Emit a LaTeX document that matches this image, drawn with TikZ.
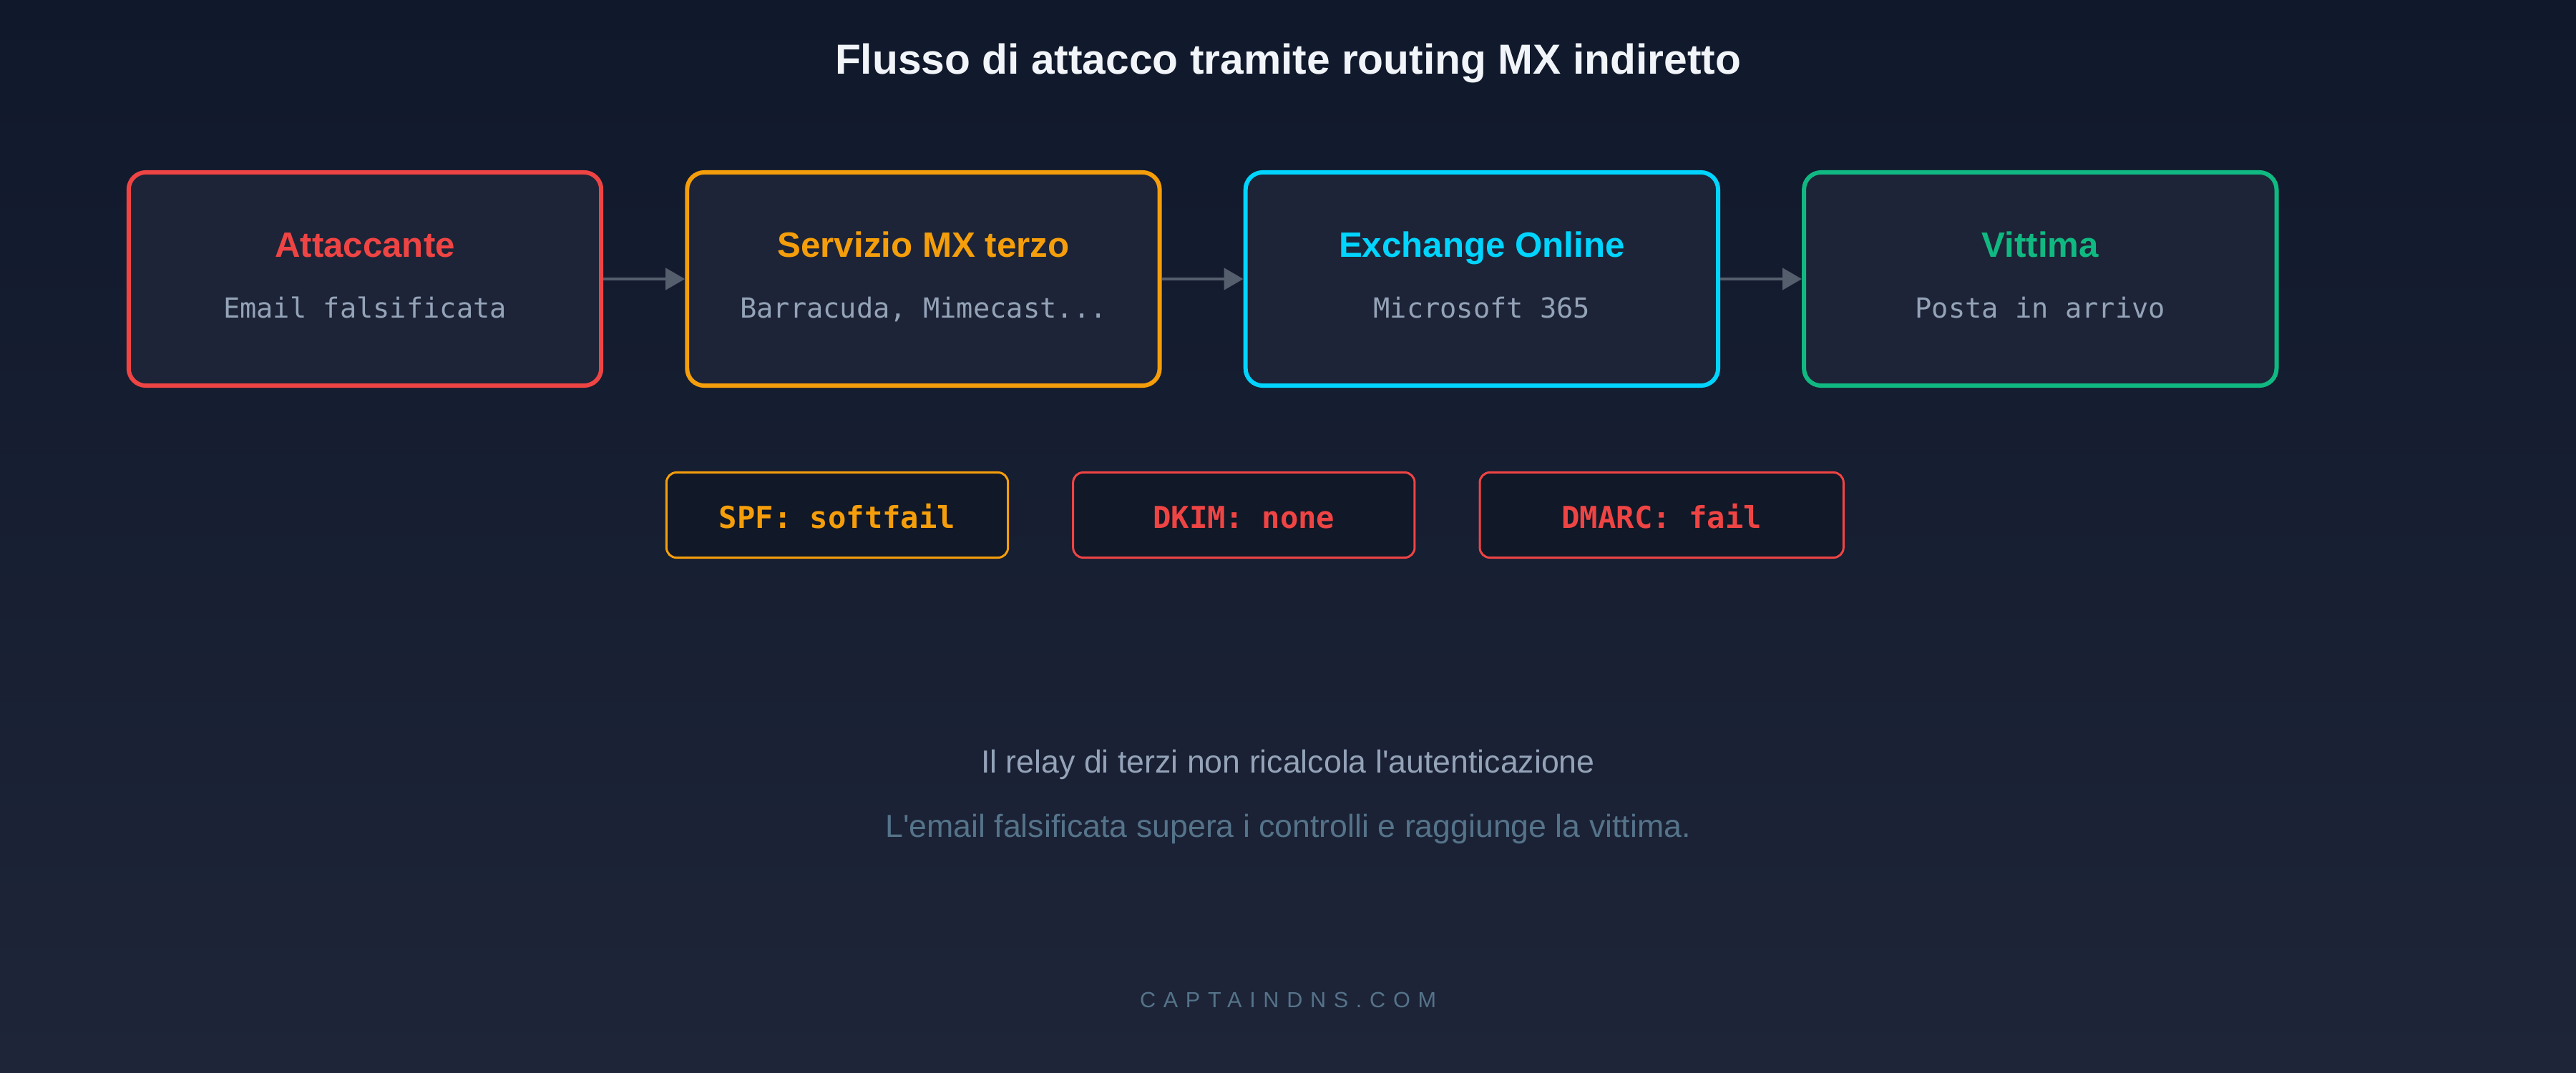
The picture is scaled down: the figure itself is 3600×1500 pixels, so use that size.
\documentclass[tikz,border=0pt]{standalone}
\usepackage{fontspec}
\setmainfont{Liberation Sans}[Ligatures=TeXOff]
\setmonofont{DejaVu Sans Mono}
\newfontfamily\footfont[LetterSpace=35]{Liberation Sans}
\usetikzlibrary{arrows.meta,positioning}

\definecolor{bgtop}{HTML}{10182B}
\definecolor{bgbot}{HTML}{1E2539}
\definecolor{boxfill}{HTML}{1D2437}
\definecolor{badgefill}{HTML}{111827}
\definecolor{attred}{HTML}{EF4444}
\definecolor{mxorange}{HTML}{F59E0B}
\definecolor{exocyan}{HTML}{00D4FF}
\definecolor{vicgreen}{HTML}{10B981}
\definecolor{subgray}{HTML}{94A3B8}
\definecolor{notegray}{HTML}{557389}
\definecolor{arrowgray}{HTML}{545E6C}
\definecolor{titlewhite}{HTML}{F1F5F9}

\begin{document}
\begin{tikzpicture}[x=0.01cm,y=-0.01cm,>={Triangle[length=7.7pt,width=8.5pt]},
                    node distance=1.14cm,
                    stage/.style={draw,fill=boxfill,line width=1.7pt,rounded corners=0.24cm,
                                  minimum width=6.6cm,minimum height=2.98cm,inner sep=0pt},
                    stagetitle/.style={anchor=base,font=\bfseries\fontsize{14}{17}\selectfont},
                    stagesub/.style={anchor=base,text=subgray,font=\ttfamily\fontsize{11}{13}\selectfont},
                    badge/.style={draw,fill=badgefill,line width=0.85pt,rounded corners=0.14cm,
                                  minimum height=1.19cm,inner sep=0pt},
                    badgetext/.style={anchor=base,font=\ttfamily\bfseries\fontsize{12}{14}\selectfont}]
  % background
  \useasboundingbox (0,0) rectangle (3600,1500);
  \fill[top color=bgtop,bottom color=bgbot] (0,0) rectangle (3600,1500);

  \node[anchor=base,text=titlewhite,font=\bfseries\fontsize{16.7}{20}\selectfont] (title) at (1800,104)
    {Flusso di attacco tramite routing MX indiretto};

  % flow
  \node[stage,draw=attred] (att) at (510,390) {};
  \node[stage,draw=mxorange] (mx) [right=of att] {};
  \node[stage,draw=exocyan] (exo) [right=of mx] {};
  \node[stage,draw=vicgreen] (vic) [right=of exo] {};

  \node[stagetitle,text=attred] (attT) at ([yshift=0.3cm]att.center) {Attaccante};
  \node[stagesub] (attS) at ([yshift=-0.54cm]att.center) {Email falsificata};
  \node[stagetitle,text=mxorange] (mxT) at ([yshift=0.3cm]mx.center) {Servizio MX terzo};
  \node[stagesub] (mxS) at ([yshift=-0.54cm]mx.center) {Barracuda, Mimecast...};
  \node[stagetitle,text=exocyan] (exoT) at ([yshift=0.3cm]exo.center) {Exchange Online};
  \node[stagesub] (exoS) at ([yshift=-0.54cm]exo.center) {Microsoft 365};
  \node[stagetitle,text=vicgreen] (vicT) at ([yshift=0.3cm]vic.center) {Vittima};
  \node[stagesub] (vicS) at ([yshift=-0.54cm]vic.center) {Posta in arrivo};

  \path[->,color=arrowgray,line width=1.4pt]
    (att) edge (mx)
    (mx) edge (exo)
    (exo) edge (vic);

  % results
  \node[badge,draw=mxorange,minimum width=4.77cm] (spf) at (1170,720) {};
  \node[badge,draw=attred,minimum width=4.77cm,node distance=0.88cm] (dkim) [right=of spf] {};
  \node[badge,draw=attred,minimum width=5.08cm,node distance=0.88cm] (dmarc) [right=of dkim] {};
  \node[badgetext,text=mxorange] (spfT) at ([yshift=-0.18cm]spf.center) {SPF: softfail};
  \node[badgetext,text=attred] (dkimT) at ([yshift=-0.18cm]dkim.center) {DKIM: none};
  \node[badgetext,text=attred] (dmarcT) at ([yshift=-0.18cm]dmarc.center) {DMARC: fail};

  % notes
  \node[anchor=base,text=subgray,font=\fontsize{12.7}{15}\selectfont] (note1) at (1800,1080)
    {Il relay di terzi non ricalcola l'autenticazione};
  \node[anchor=base,text=notegray,font=\fontsize{12.7}{15}\selectfont] (note2) at (1800,1170)
    {L'email falsificata supera i controlli e raggiunge la vittima.};
  \node[anchor=base,text=notegray,font=\footfont\fontsize{8.7}{10}\selectfont] (site) at (1800,1408)
    {CAPTAINDNS.COM};
\end{tikzpicture}
\end{document}
